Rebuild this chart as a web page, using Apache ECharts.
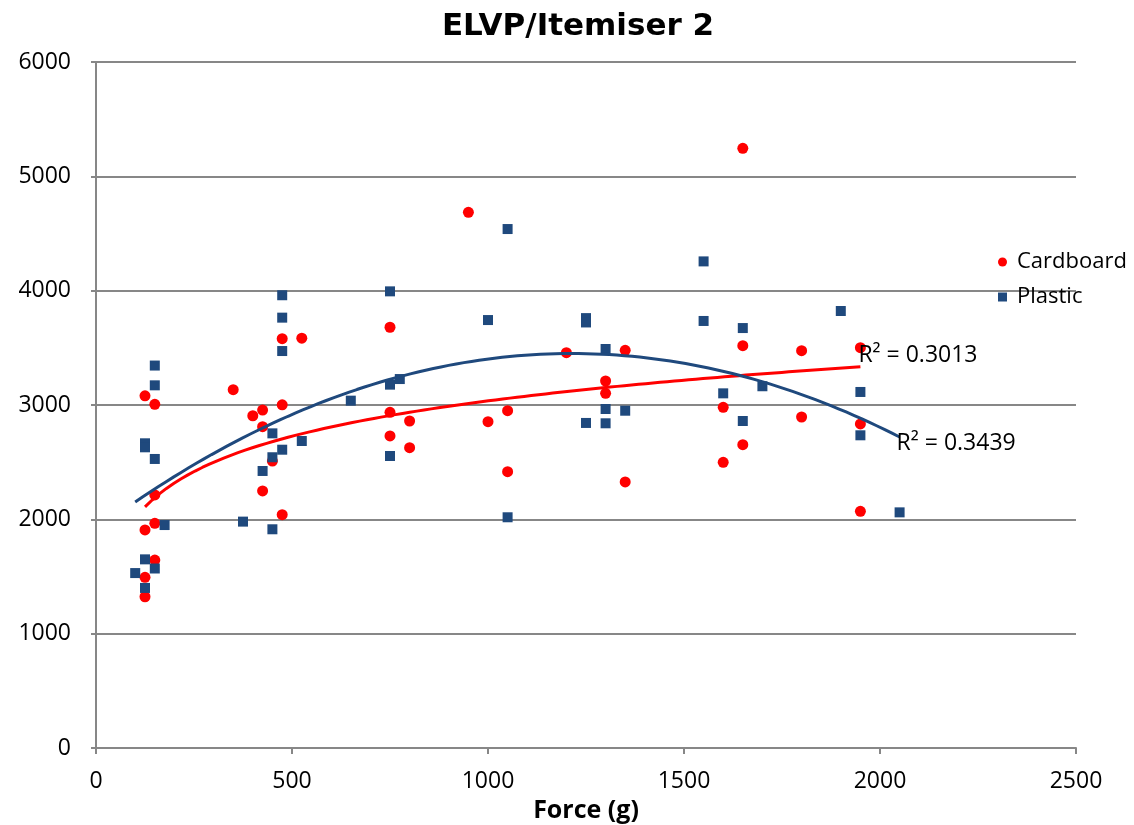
<!DOCTYPE html>
<html>
<head>
<meta charset="utf-8">
<script src="https://cdn.jsdelivr.net/npm/echarts@6/dist/echarts.min.js"></script>
<style>html,body{margin:0;padding:0;background:#fff;}#c{width:1134px;height:825px;}</style>
</head>
<body>
<div id="c"></div>
<script>
// Cardboard (Force g, value)
const cardboardX = [125,150,150,150,125,150,125,125,350,400,425,425,425,450,475,475,475,525,750,750,750,800,800,950,1000,1050,1050,1200,1300,1300,1350,1350,1600,1600,1650,1650,1650,1800,1800,1950,1950,1950];
const cardboardY = [3080,3006,2213,1965,1907,1644,1493,1323,3134,2906,2956,2810,2248,2510,3580,3002,2041,3584,3680,2936,2729,2860,2627,4685,2854,2950,2417,3458,3210,3102,3478,2327,2980,2499,5245,3519,2653,3475,2895,3501,2834,2070];
// Plastic
const plasticX = [100,125,125,125,125,150,150,150,150,175,375,425,450,450,450,475,475,475,475,525,650,750,750,750,775,1000,1050,1050,1250,1250,1250,1300,1300,1300,1350,1550,1550,1600,1650,1650,1700,1900,1950,1950,2050];
const plasticY = [1530,2665,2630,1650,1400,3345,3172,2528,1570,1950,1980,2423,2752,2543,1913,3960,3764,3472,2609,2685,3038,3994,3178,2554,3227,3743,4539,2018,3760,3722,2843,3490,2965,2840,2950,4256,3735,3102,3673,2860,3164,3822,3114,2735,2061];
const seriesNames = ['Cardboard','Plastic'];
const r2Labels = ['R² = 0.3013','R² = 0.3439'];
// Trendline parameters
const cardboardLogTrend = [446, -45];              // y = a*ln(x) + b
const plasticPolyTrend = [1908.5, 2.5389, -0.0010454]; // y = c0 + c1 x + c2 x^2
const xTicks = [0,500,1000,1500,2000,2500];
const yTicks = [0,1000,2000,3000,4000,5000,6000];

function zip(xs, ys){ return xs.map((x,i)=>[x, ys[i]]); }
function sample(f, xs){
  const lo=Math.min(...xs), hi=Math.max(...xs), out=[];
  for(let i=0;i<=100;i++){ const x=lo+(hi-lo)*i/100; out.push([x, f(x)]); }
  return out;
}
const redTrend = sample(x => cardboardLogTrend[0]*Math.log(x)+cardboardLogTrend[1], cardboardX);
const blueTrend = sample(x => plasticPolyTrend[0]+plasticPolyTrend[1]*x+plasticPolyTrend[2]*x*x, plasticX);

const RED='#FF0000', BLUE='#1F497D', GRIDC='#878787';
const FONT='Open Sans';
const chart = echarts.init(document.getElementById('c'), null, {renderer:'canvas'});
chart.setOption({
  animation:false,
  backgroundColor:'#fff',
  title:{ text:'ELVP/Itemiser 2', left:573, top:6, textAlign:'center',
    textStyle:{ fontFamily:'DejaVu Sans', fontWeight:'bold', fontSize:31, color:'#000' } },
  legend:{ orient:'vertical', left:993, top:246, itemWidth:9, itemHeight:9, itemGap:13,
    data:[{name:seriesNames[0], icon:'circle'},{name:seriesNames[1], icon:'rect'}],
    textStyle:{ fontFamily:FONT, fontSize:22, color:'#000', padding:[0,0,0,5] } },
  grid:{ left:96, right:58, top:62, bottom:77, containLabel:false, outerBoundsMode:'none' },
  xAxis:{ type:'value', min:0, max:2500, interval:500,
    name:'Force (g)', nameLocation:'middle', nameGap:37,
    nameTextStyle:{ fontFamily:FONT, fontWeight:'bold', fontSize:25, color:'#000' },
    axisLine:{ show:true, lineStyle:{ color:GRIDC, width:2 } },
    axisTick:{ show:true, length:6, lineStyle:{ color:GRIDC, width:2 } },
    axisLabel:{ fontFamily:FONT, fontSize:23, color:'#000', margin:22, formatter:v=>String(v) },
    splitLine:{ show:false } },
  yAxis:{ type:'value', min:0, max:6000, interval:1000,
    axisLine:{ show:true, lineStyle:{ color:GRIDC, width:2 } },
    axisTick:{ show:true, length:5, lineStyle:{ color:GRIDC, width:2 } },
    axisLabel:{ fontFamily:FONT, fontSize:23, color:'#000', margin:25, formatter:v=>String(v) },
    splitLine:{ show:true, lineStyle:{ color:GRIDC, width:2 } } },
  series:[
    { name:seriesNames[0], type:'scatter', symbol:'circle', symbolSize:11, data:zip(cardboardX, cardboardY),
      itemStyle:{ color:RED, opacity:1 }, z:3 },
    { name:seriesNames[1], type:'scatter', symbol:'rect', symbolSize:10, data:zip(plasticX, plasticY),
      itemStyle:{ color:BLUE, opacity:1 }, z:3 },
    { name:'CardboardTrend', type:'line', data:redTrend, showSymbol:false, symbol:'none',
      lineStyle:{ color:RED, width:3 }, z:4,
      endLabel:{ show:true, formatter:r2Labels[0], fontFamily:FONT, fontSize:23, color:'#000', offset:[-2,-11], distance:0 } },
    { name:'PlasticTrend', type:'line', data:blueTrend, showSymbol:false, symbol:'none',
      lineStyle:{ color:BLUE, width:3 }, z:4,
      endLabel:{ show:true, formatter:r2Labels[1], fontFamily:FONT, fontSize:23, color:'#000', offset:[-3,6], distance:0 } }
  ]
});
</script>
</body>
</html>
